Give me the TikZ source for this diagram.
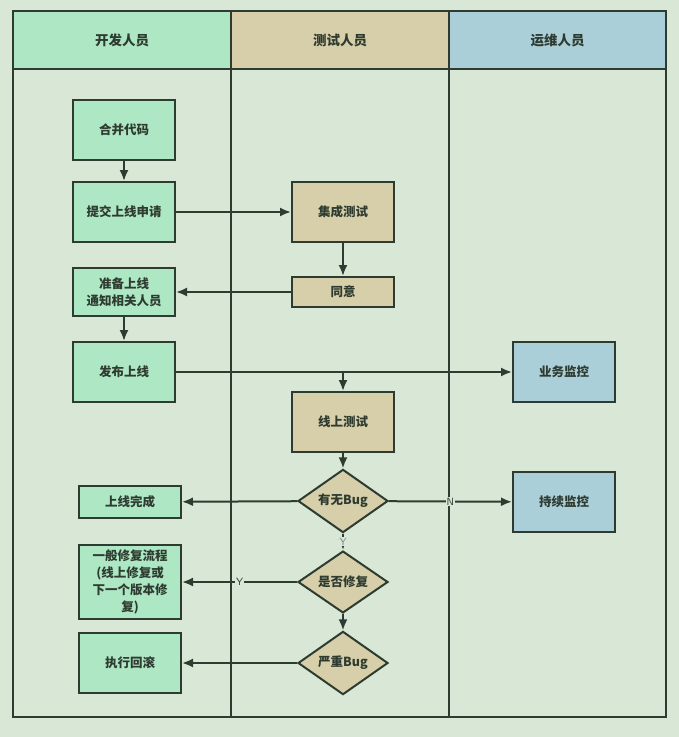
\documentclass[tikz,border=0pt]{standalone}
\usepackage{fontspec}
\newfontfamily\cjk{Noto Sans CJK SC}
\usetikzlibrary{shapes.geometric,arrows.meta}
\definecolor{bgc}{RGB}{217,231,214}
\definecolor{devc}{RGB}{174,231,196}
\definecolor{testc}{RGB}{215,207,169}
\definecolor{opsc}{RGB}{171,207,216}
\definecolor{linec}{RGB}{46,59,48}
\begin{document}
\begin{tikzpicture}[x=1pt,y=-1pt,
        box/.style={draw=linec, line width=2pt, inner sep=0pt, align=center,
            font=\cjk\bfseries\fontsize{12.5}{17}\selectfont, text=linec},
        devbox/.style={box, fill=devc, minimum width=102pt, minimum height=60pt},
        testbox/.style={box, fill=testc, minimum width=102pt, minimum height=60pt},
        opsbox/.style={box, fill=opsc, minimum width=102pt, minimum height=60pt},
        decide/.style={box, diamond, fill=testc, minimum width=90pt, minimum height=46pt},
        head/.style={font=\cjk\bfseries\fontsize{13.5}{15}\selectfont, text=linec},
        arr/.style={draw=linec, line width=2pt, -{Latex[length=11pt,width=9pt]}},
        lab/.style={fill=bgc, inner sep=1pt, font=\sffamily\fontsize{10.5}{12}\selectfont, text=linec}
    ]
    % page and swimlanes
    \fill[bgc] (0,0) rectangle (679,737);
    \useasboundingbox (0,0) rectangle (679,737);
    \fill[devc] (13,11) rectangle (231,69);
    \fill[testc] (231,11) rectangle (449,69);
    \fill[opsc] (449,11) rectangle (666,69);
    \draw[linec, line width=2.2pt] (13,11) rectangle (666,717);
    \draw[linec, line width=2.2pt] (13,69) -- (666,69);
    \draw[linec, line width=2.2pt] (231,11) -- (231,717);
    \draw[linec, line width=2.2pt] (449,11) -- (449,717);
    \node[head] (hdev) at (122,40) {开发人员};
    \node[head] (htest) at (340,40) {测试人员};
    \node[head] (hops) at (557.5,40) {运维人员};

    % dev lane
    \node[devbox] (merge) at (124,130) {合并代码};
    \node[devbox] (submit) at (124,212) {提交上线申请};
    \node[devbox, minimum height=48pt] (prep) at (124,292) {准备上线\\通知相关人员};
    \node[devbox] (publish) at (124,372) {发布上线};
    \node[devbox, minimum height=32pt] (done) at (130,502) {上线完成};
    \node[devbox, minimum height=74pt] (fix) at (130,582) {一般修复流程\\(线上修复或\\下一个版本修\\复)};
    \node[devbox] (rollback) at (130,663) {执行回滚};

    % test lane
    \node[testbox] (inttest) at (343,212) {集成测试};
    \node[testbox, minimum height=30pt] (agree) at (343,292) {同意};
    \node[testbox] (onlinetest) at (343,422) {线上测试};
    \node[decide] (hasbug) at (343,501) {有无Bug};
    \node[decide] (dofix) at (343,582) {是否修复};
    \node[decide] (severe) at (343,663) {严重Bug};

    % ops lane
    \node[opsbox] (bizmon) at (564,372) {业务监控};
    \node[opsbox] (keepmon) at (564,502) {持续监控};

    % connectors
    \draw[arr] (merge) -- (submit);
    \draw[arr] (submit) -- (inttest);
    \draw[arr] (inttest) -- (agree);
    \draw[arr] (agree) -- (prep);
    \draw[arr] (prep) -- (publish);
    \draw[arr] (publish) -- (bizmon);
    \draw[arr] (publish -| onlinetest) -- (onlinetest);
    \draw[arr] (onlinetest) -- (hasbug);
    \draw[arr] (hasbug) -- (done);
    \draw[arr] (hasbug) -- node[lab] {N} (keepmon);
    \draw[arr] (hasbug) -- node[lab, text=gray] {Y} (dofix);
    \draw[arr] (dofix) -- node[lab] {Y} (fix);
    \draw[arr] (dofix) -- (severe);
    \draw[arr] (severe) -- (rollback);
\end{tikzpicture}
\end{document}
